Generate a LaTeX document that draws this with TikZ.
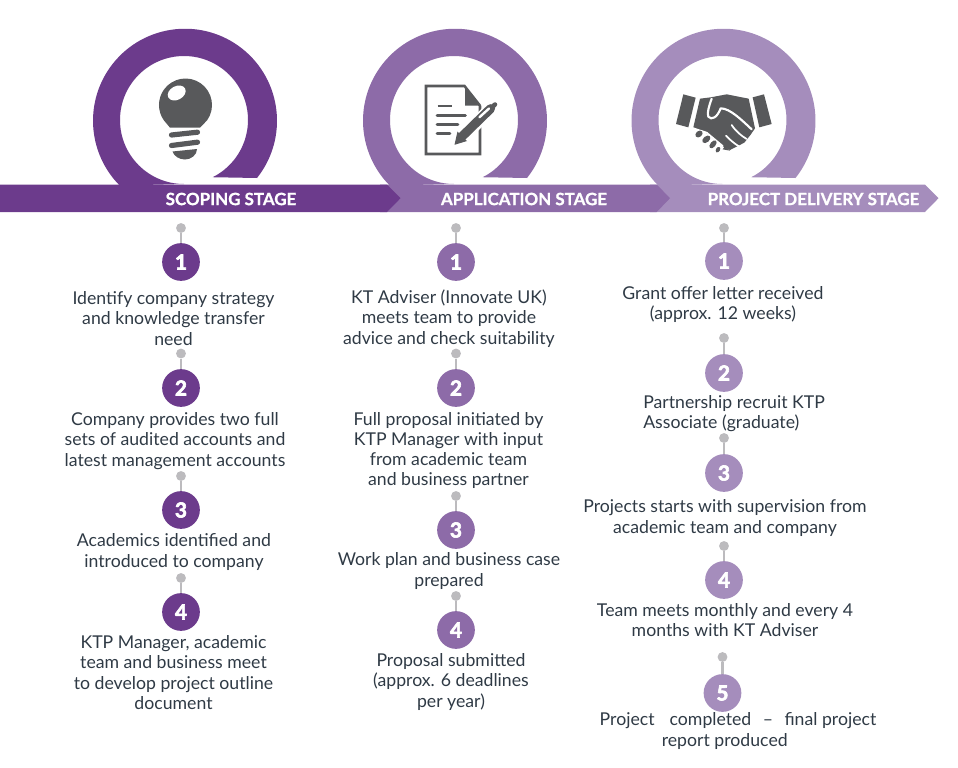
\documentclass[tikz,border=0pt]{standalone}
\usepackage{fontspec}
\setmainfont{Lato}
\newfontfamily\numfont[FakeBold=3]{Lato}
\newfontfamily\headfont[FakeBold=1]{Lato}
\definecolor{pa}{HTML}{6C3B8C}
\definecolor{pb}{HTML}{8D6BA8}
\definecolor{pc}{HTML}{A58DBC}
\definecolor{iconc}{HTML}{58595B}
\definecolor{txtc}{HTML}{2F3A45}
\definecolor{dotc}{HTML}{BCBBBE}
\tikzset{
  stepnum/.style={circle,minimum size=28.3pt,inner sep=0pt,text=white,font=\numfont\bfseries\fontsize{15.5}{15.5}\selectfont},
  dotnode/.style={circle,fill=dotc,minimum size=7.4pt,inner sep=0pt},
  stemline/.style={draw=dotc,line width=2pt},
  steptext/.style={inner sep=0pt,text=txtc,align=center,font=\fontsize{13.25}{15.2}\selectfont},
  ribbontext/.style={inner sep=0pt,text=white,font=\headfont\bfseries\fontsize{12.7}{14}\selectfont},
  iconfill/.style={fill=iconc,draw=none},
}
\newcommand{\ringshape}[1]{% #1 = centre x
  (#1+73,-178) arc[start angle=-38.5,end angle=224.8,radius=92]
  -- (#1,-184) arc[start angle=270,end angle=-63.4,radius=64] -- cycle}
\newcommand{\stepitem}[5]{% name, x, dot y, circle y, colour / number in name
  \node[dotnode] (#1d) at (#2,-#3) {};
  \node[stepnum,fill=#5] (#1) at (#2,-#4) {\ignorespaces\stepnumber};
  \draw[stemline] (#1d) -- (#1);
}
\newcommand{\stepnumber}{}
\begin{document}
\begin{tikzpicture}[x=.75pt,y=.75pt]
\useasboundingbox (0,0) rectangle (958,-768);
% ribbons and rings (latest first so earlier tips overlay)
\fill[pc] (650,-184.5) -- (925,-184.5) -- (938.5,-198.2) -- (925,-212) -- (650,-212) -- cycle;
\fill[pc] \ringshape{722.5};
\fill[pb] (380,-184.5) -- (656.7,-184.5) -- (670,-198.2) -- (656.7,-212) -- (380,-212) -- cycle;
\fill[pb] \ringshape{454};
\fill[pa] (0,-184.5) -- (387,-184.5) -- (400.5,-198.2) -- (387,-212) -- (0,-212) -- cycle;
\fill[pa] \ringshape{184};
% bulb
\fill[iconc] (207.2,-120.2) arc[start angle=-35,end angle=215,radius=26.5] -- (170,-127.7) -- (200,-127.7) -- cycle;
\fill[white,rotate around={28:(176.7,-93)}] (176.7,-93) ellipse[x radius=9.5,y radius=6.8];
\draw[iconc,line width=3.9pt,line cap=round] (171.5,-135) -- (197.5,-132.2);
\draw[iconc,line width=3.9pt,line cap=round] (171.5,-145.5) -- (197.5,-142.2);
\fill[iconc] (172.5,-151.5) -- (197,-149) .. controls (197,-155) and (191,-159.5) .. (185,-159.5) .. controls (179,-159.5) and (174,-156) .. (172.5,-151.5) -- cycle;
% document
\draw[iconc,line width=1.9pt] (480,-105.7) -- (480,-154) -- (426,-154) -- (426,-86) -- (464.5,-86) -- (480,-105.7);
\fill[iconc] (465,-86) -- (465,-105.7) -- (481,-105.7) -- cycle;
\draw[iconc,line width=1.5pt] (437.7,-105.7) -- (451.7,-105.7);
\draw[iconc,line width=1.9pt,line cap=round] (437,-115.7) -- (465.5,-115.7) (437,-124.3) -- (458,-124.3) (437,-133.3) -- (450,-133.3);
% pen
\draw[white,line width=10pt] (456,-143) -- (494,-106);
\draw[iconc,line width=6.8pt,line cap=round] (461,-137.5) -- (490.5,-108.7);
\draw[iconc,line width=3.4pt,line cap=round] (490,-109) -- (495,-104.5);
\fill[iconc] (454.5,-144.8) -- (457.5,-131.5) -- (467,-141) -- cycle;
\draw[white,line width=1.8pt,line cap=round] (479.5,-117.2) -- (489,-108.5);
% handshake
\begin{scope}[shift={(480,0)},x=.25pt,y=.25pt]
\fill[iconc] (610,-283) -- (647,-293) -- (625,-382) -- (588,-372) -- cycle;
\fill[iconc] (818,-292) -- (852,-283) -- (875,-372) -- (838,-382) -- cycle;
\fill[iconc] (660,-296) -- (692,-292) -- (740,-283) -- (806,-296) -- (825,-385) -- (812,-404) -- (793,-428) -- (750,-450) -- (730,-440) -- (680,-400) -- (640,-382) -- cycle;
\draw[white,line width=1.6pt,line cap=round,line join=round] (695,-296) .. controls (688,-315) and (680,-340) .. (685,-350) .. controls (695,-362) and (712,-352) .. (722,-325) .. controls (750,-325) and (785,-360) .. (815,-388);
\draw[white,line width=1.3pt,line cap=round] (755,-375) .. controls (768,-395) and (785,-408) .. (800,-417);
\draw[white,line width=1.3pt,line cap=round] (738,-407) .. controls (750,-420) and (765,-432) .. (778,-440);
\draw[white,line width=1.3pt,line cap=round] (640,-385) -- (680,-398) -- (728,-438);
\fill[iconc,rotate around={40:(657,-402)}] (657,-402) ellipse[x radius=12,y radius=9];
\fill[iconc,rotate around={40:(679,-418)}] (679,-418) ellipse[x radius=14,y radius=9];
\fill[iconc,rotate around={50:(699,-433)}] (699,-433) ellipse[x radius=14,y radius=8];
\fill[iconc,rotate around={60:(714,-449)}] (714,-449) ellipse[x radius=9,y radius=6];
\fill[iconc] (728,-448) -- (750,-452) -- (735,-438) -- cycle;
\end{scope}
% ribbon labels
\node[ribbontext] (ls) at (231,-199) {SCOPING STAGE};
\node[ribbontext] (la) at (524,-199) {APPLICATION STAGE};
\node[ribbontext] (lp) at (813.5,-199) {PROJECT DELIVERY STAGE};
% column 1
\renewcommand{\stepnumber}{1}\stepitem{aa}{181}{228}{262}{pa}
\renewcommand{\stepnumber}{2}\stepitem{ab}{181}{353.5}{388}{pa}
\renewcommand{\stepnumber}{3}\stepitem{ac}{181}{476}{510}{pa}
\renewcommand{\stepnumber}{4}\stepitem{ad}{181}{578}{612}{pa}
\node[steptext] (at1) at (173.5,-318.5) {Identify company strategy\\and knowledge transfer\\need};
\node[steptext] (at2) at (175,-441) {Company provides two full\\sets of audited accounts and\\latest management accounts};
\node[steptext] (at3) at (174,-552) {Academics identified and\\introduced to company};
\node[steptext] (at4) at (173.5,-672.5) {KTP Manager, academic\\team and business meet\\to develop project outline\\document};
% column 2
\renewcommand{\stepnumber}{1}\stepitem{ba}{456}{228}{262}{pb}
\renewcommand{\stepnumber}{2}\stepitem{bb}{456}{353.5}{388}{pb}
\renewcommand{\stepnumber}{3}\stepitem{bc}{456}{496}{530}{pb}
\renewcommand{\stepnumber}{4}\stepitem{bd}{456}{596}{630}{pb}
\node[steptext] (bt1) at (449,-318.5) {KT Adviser (Innovate UK)\\meets team to provide\\advice and check suitability};
\node[steptext] (bt2) at (448.5,-450.5) {Full proposal initiated by\\KTP Manager with input\\from academic team\\and business partner};
\node[steptext] (bt3) at (449,-571) {Work plan and business case\\prepared};
\node[steptext] (bt4) at (451,-682) {Proposal submitted\\(approx. 6 deadlines\\per year)};
% column 3
\renewcommand{\stepnumber}{1}\stepitem{ca}{724}{228}{261}{pc}
\renewcommand{\stepnumber}{2}\stepitem{cb}{724}{338}{373}{pc}
\renewcommand{\stepnumber}{3}\stepitem{cc}{724}{438}{473}{pc}
\renewcommand{\stepnumber}{4}\stepitem{cd}{724}{546}{580}{pc}
\renewcommand{\stepnumber}{5}\stepitem{ce}{722.5}{657}{693}{pc}
\node[steptext] (ct1) at (723,-304.5) {Grant offer letter received\\(approx. 12 weeks)};
\node[steptext,align=left,anchor=west] (ct2) at (643,-413.5) {Partnership recruit KTP\\Associate (graduate)};
\node[steptext] (ct3) at (725,-518) {Projects starts with supervision from\\academic team and company};
\node[steptext] (ct4) at (725,-620) {Team meets monthly and every 4\\months with KT Adviser};
\node[steptext] (ct5) at (738,-731) {Project\hspace{.85em}completed\hspace{.65em}–\hspace{.65em}final project\\\hspace*{-1.5em}report produced};
\end{tikzpicture}
\end{document}
